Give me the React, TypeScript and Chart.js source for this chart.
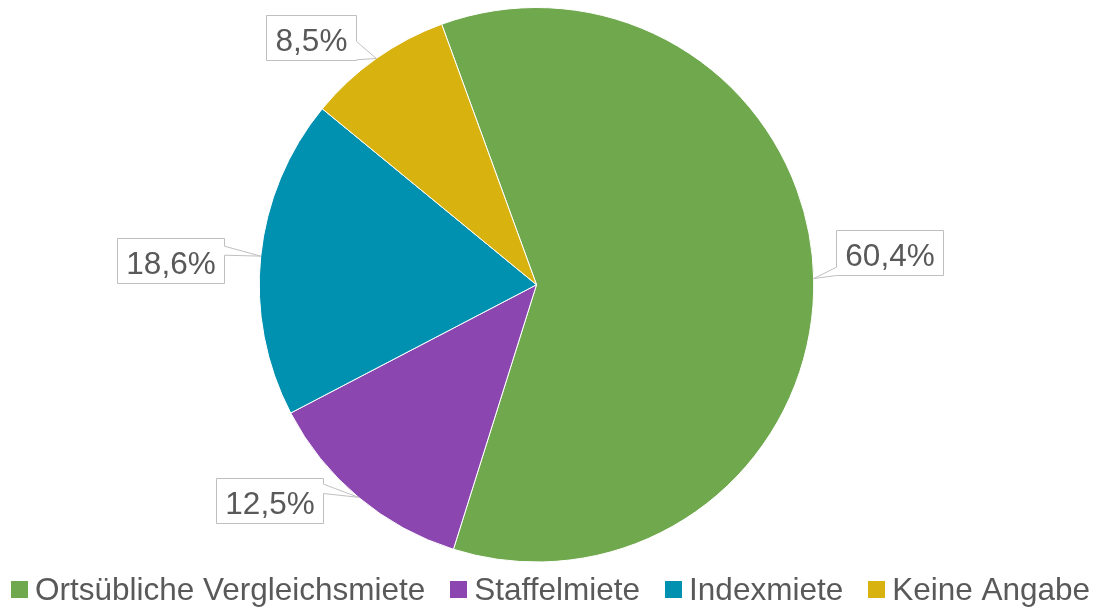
import React, { useEffect, useRef } from "react";
import { Chart, registerables } from "chart.js";

Chart.register(...registerables);

const categories = ["Ortsübliche Vergleichsmiete", "Staffelmiete", "Indexmiete", "Keine Angabe"];
const shares = [60.4, 12.5, 18.6, 8.5];
const valueLabels = ["60,4%", "12,5%", "18,6%", "8,5%"];
const sliceColors = ["#70A84D", "#8B46B0", "#0090B0", "#D8B310"];

const FONT = '"Liberation Sans", Arial, Helvetica, sans-serif';
const FONT_SIZE = 31.5;
const TEXT_COLOR = "#595959";

// Callout layout (relative to the slice's outer mid-point): box edge offset, top offset, wedge base
type Callout = { side: "left" | "right"; dx: number; dy: number; b1: number; b2: number };
const calloutLayout: Callout[] = [
  { side: "left", dx: 22.7, dy: -48.3, b1: 36.7, b2: 45 },
  { side: "right", dx: -36, dy: -19, b1: 5.7, b2: 15 },
  { side: "right", dx: -36.6, dy: -18.3, b1: 7.7, b2: 16.7 },
  { side: "right", dx: -20.3, dy: -43, b1: 26, b2: 44.3 },
];

const calloutPlugin = {
  id: "callouts",
  afterDraw(chart: any) {
    const ctx: CanvasRenderingContext2D = chart.ctx;
    const meta = chart.getDatasetMeta(0);
    ctx.save();
    ctx.font = `${FONT_SIZE}px ${FONT}`;
    meta.data.forEach((arc: any, i: number) => {
      const mid = (arc.startAngle + arc.endAngle) / 2;
      const tx = arc.x + Math.cos(mid) * arc.outerRadius;
      const ty = arc.y + Math.sin(mid) * arc.outerRadius;
      const lay = calloutLayout[i];
      const text = valueLabels[i];
      const tw = ctx.measureText(text).width;
      const w = Math.round(tw + 18);
      const h = 45;
      let left: number;
      if (lay.side === "left") left = tx + lay.dx;
      else left = tx + lay.dx - w;
      left = Math.round(left) + 0.5;
      const top = Math.round(ty + lay.dy) + 0.5;
      const right = left + w;
      const bottom = top + h;
      const b1 = top + lay.b1;
      const b2 = Math.min(bottom, top + lay.b2);
      ctx.beginPath();
      ctx.moveTo(left, top);
      ctx.lineTo(right, top);
      if (lay.side === "right") {
        ctx.lineTo(right, b1);
        ctx.lineTo(tx, ty);
        ctx.lineTo(right, b2);
      }
      ctx.lineTo(right, bottom);
      ctx.lineTo(left, bottom);
      if (lay.side === "left") {
        ctx.lineTo(left, b2);
        ctx.lineTo(tx, ty);
        ctx.lineTo(left, b1);
      }
      ctx.closePath();
      ctx.fillStyle = "#FFFFFF";
      ctx.fill();
      ctx.strokeStyle = "#BFBFBF";
      ctx.lineWidth = 1;
      ctx.stroke();
      ctx.fillStyle = TEXT_COLOR;
      ctx.textAlign = "center";
      ctx.textBaseline = "alphabetic";
      ctx.fillText(text, (left + right) / 2, top + 35);
    });

    // legend
    const box = 17;
    const gapBoxText = 7;
    const gapItems = 25;
    const widths = categories.map((c) => ctx.measureText(c).width);
    const total = widths.reduce((a, b) => a + b, 0) + categories.length * (box + gapBoxText) + (categories.length - 1) * gapItems;
    let x = chart.width / 2 - total / 2;
    const boxTop = 581;
    const baseline = 600;
    categories.forEach((c, i) => {
      ctx.fillStyle = sliceColors[i];
      ctx.fillRect(Math.round(x), boxTop, box, box);
      x += box + gapBoxText;
      ctx.fillStyle = TEXT_COLOR;
      ctx.textAlign = "left";
      ctx.fillText(c, x, baseline);
      x += widths[i] + gapItems;
    });
    ctx.restore();
  },
};

export default function App() {
  const ref = useRef<HTMLCanvasElement | null>(null);
  useEffect(() => {
    if (!ref.current) return;
    const chart = new Chart(ref.current, {
      type: "pie",
      data: {
        labels: categories,
        datasets: [
          {
            data: shares,
            backgroundColor: sliceColors,
            borderColor: "#FFFFFF",
            borderWidth: 1,
          },
        ],
      },
      options: {
        responsive: false,
        animation: false,
        rotation: -20,
        layout: { padding: { top: 7, bottom: 44.5, left: 0, right: 28 } },
        plugins: {
          legend: { display: false },
          tooltip: { enabled: false },
        },
      },
      plugins: [calloutPlugin],
    });
    return () => chart.destroy();
  }, []);
  return (
    <div style={{ position: "absolute", left: 0, top: 0, width: 1101, height: 607, background: "#fff" }}>
      <canvas ref={ref} width={1101} height={607} style={{ display: "block" }} />
    </div>
  );
}
